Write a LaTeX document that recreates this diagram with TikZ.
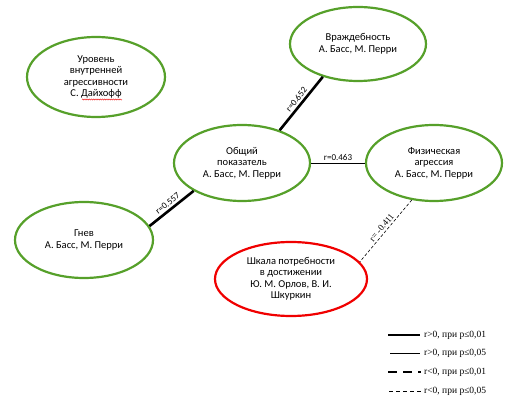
\documentclass[tikz,border=0pt]{standalone}
\usepackage{fontspec}
\setmainfont{Carlito}
\newfontfamily\legendfont{Liberation Serif}
\usetikzlibrary{shapes.geometric,decorations.pathmorphing}
\definecolor{ringgreen}{HTML}{56A02A}
\definecolor{ringred}{HTML}{F00000}

\begin{document}
\begin{tikzpicture}[
  x=1pt, y=1pt,
  oval/.style={ellipse, draw=ringgreen, line width=2.2pt, fill=white, align=center, inner sep=0pt, font=\fontsize{10.5}{11.5}\selectfont},
  strong/.style={line width=2.6pt},
  weak/.style={line width=0.6pt},
  rlabel/.style={midway, sloped, above, inner sep=2pt, font=\fontsize{9}{10}\selectfont},
  legtext/.style={anchor=west, inner sep=0pt, font=\legendfont\fontsize{9.5}{10}\selectfont}
]
\useasboundingbox (0,0) rectangle (515,402);
% scales
\node[oval, minimum width=138pt, minimum height=80pt] (level) at (96,325) {Уровень\\внутренней\\агрессивности\\С. Дайхофф};
\node[oval, minimum width=136pt, minimum height=74pt] (hostility) at (358,358) {Враждебность\\А. Басс, М. Перри};
\node[oval, minimum width=136pt, minimum height=76pt] (total) at (242,239) {Общий\\показатель\\А. Басс, М. Перри};
\node[oval, minimum width=136pt, minimum height=76pt] (physical) at (434,239) {Физическая\\агрессия\\А. Басс, М. Перри};
\node[oval, minimum width=138pt, minimum height=76pt] (anger) at (84,162) {Гнев\\А. Басс, М. Перри};
\node[oval, draw=ringred, minimum width=152pt, minimum height=74pt] (need) at (291,123) {Шкала потребности\\в достижении\\Ю. М. Орлов, В. И.\\Шкуркин};
% spell-check mark
\draw[ringred, line width=0.4pt, decorate, decoration={snake, segment length=2.2pt, amplitude=0.6pt}] (82,302.5) -- (122,302.5);
% correlations
\draw[strong] (total.41) -- node[rlabel]{r=0.652} (hostility.223);
\draw[weak] (total.east) -- node[rlabel]{r=0.463} (physical.west);
\draw[strong] (total.210) -- node[rlabel]{r=0.557} (anger.12);
\draw[weak, dashed, dash pattern=on 3pt off 2pt] (physical.239) -- node[rlabel, font=\legendfont\fontsize{9}{10}\selectfont]{r= -0.411} (need.14);
% legend
\draw[strong] (388,67) -- (420,67);
\draw[weak] (390,49) -- (420,49);
\draw[strong, dash pattern=on 9pt off 6pt] (388,30) -- (421,30);
\draw[weak, dash pattern=on 4pt off 3pt] (389,11) -- (421,11);
\node[legtext] (leg1) at (424,67) {r>0, при p≤0,01};
\node[legtext] (leg2) at (424,49) {r>0, при p≤0,05};
\node[legtext] (leg3) at (424,30) {r<0, при p≤0,01};
\node[legtext] (leg4) at (424,11) {r<0, при p≤0,05};
\end{tikzpicture}
\end{document}
